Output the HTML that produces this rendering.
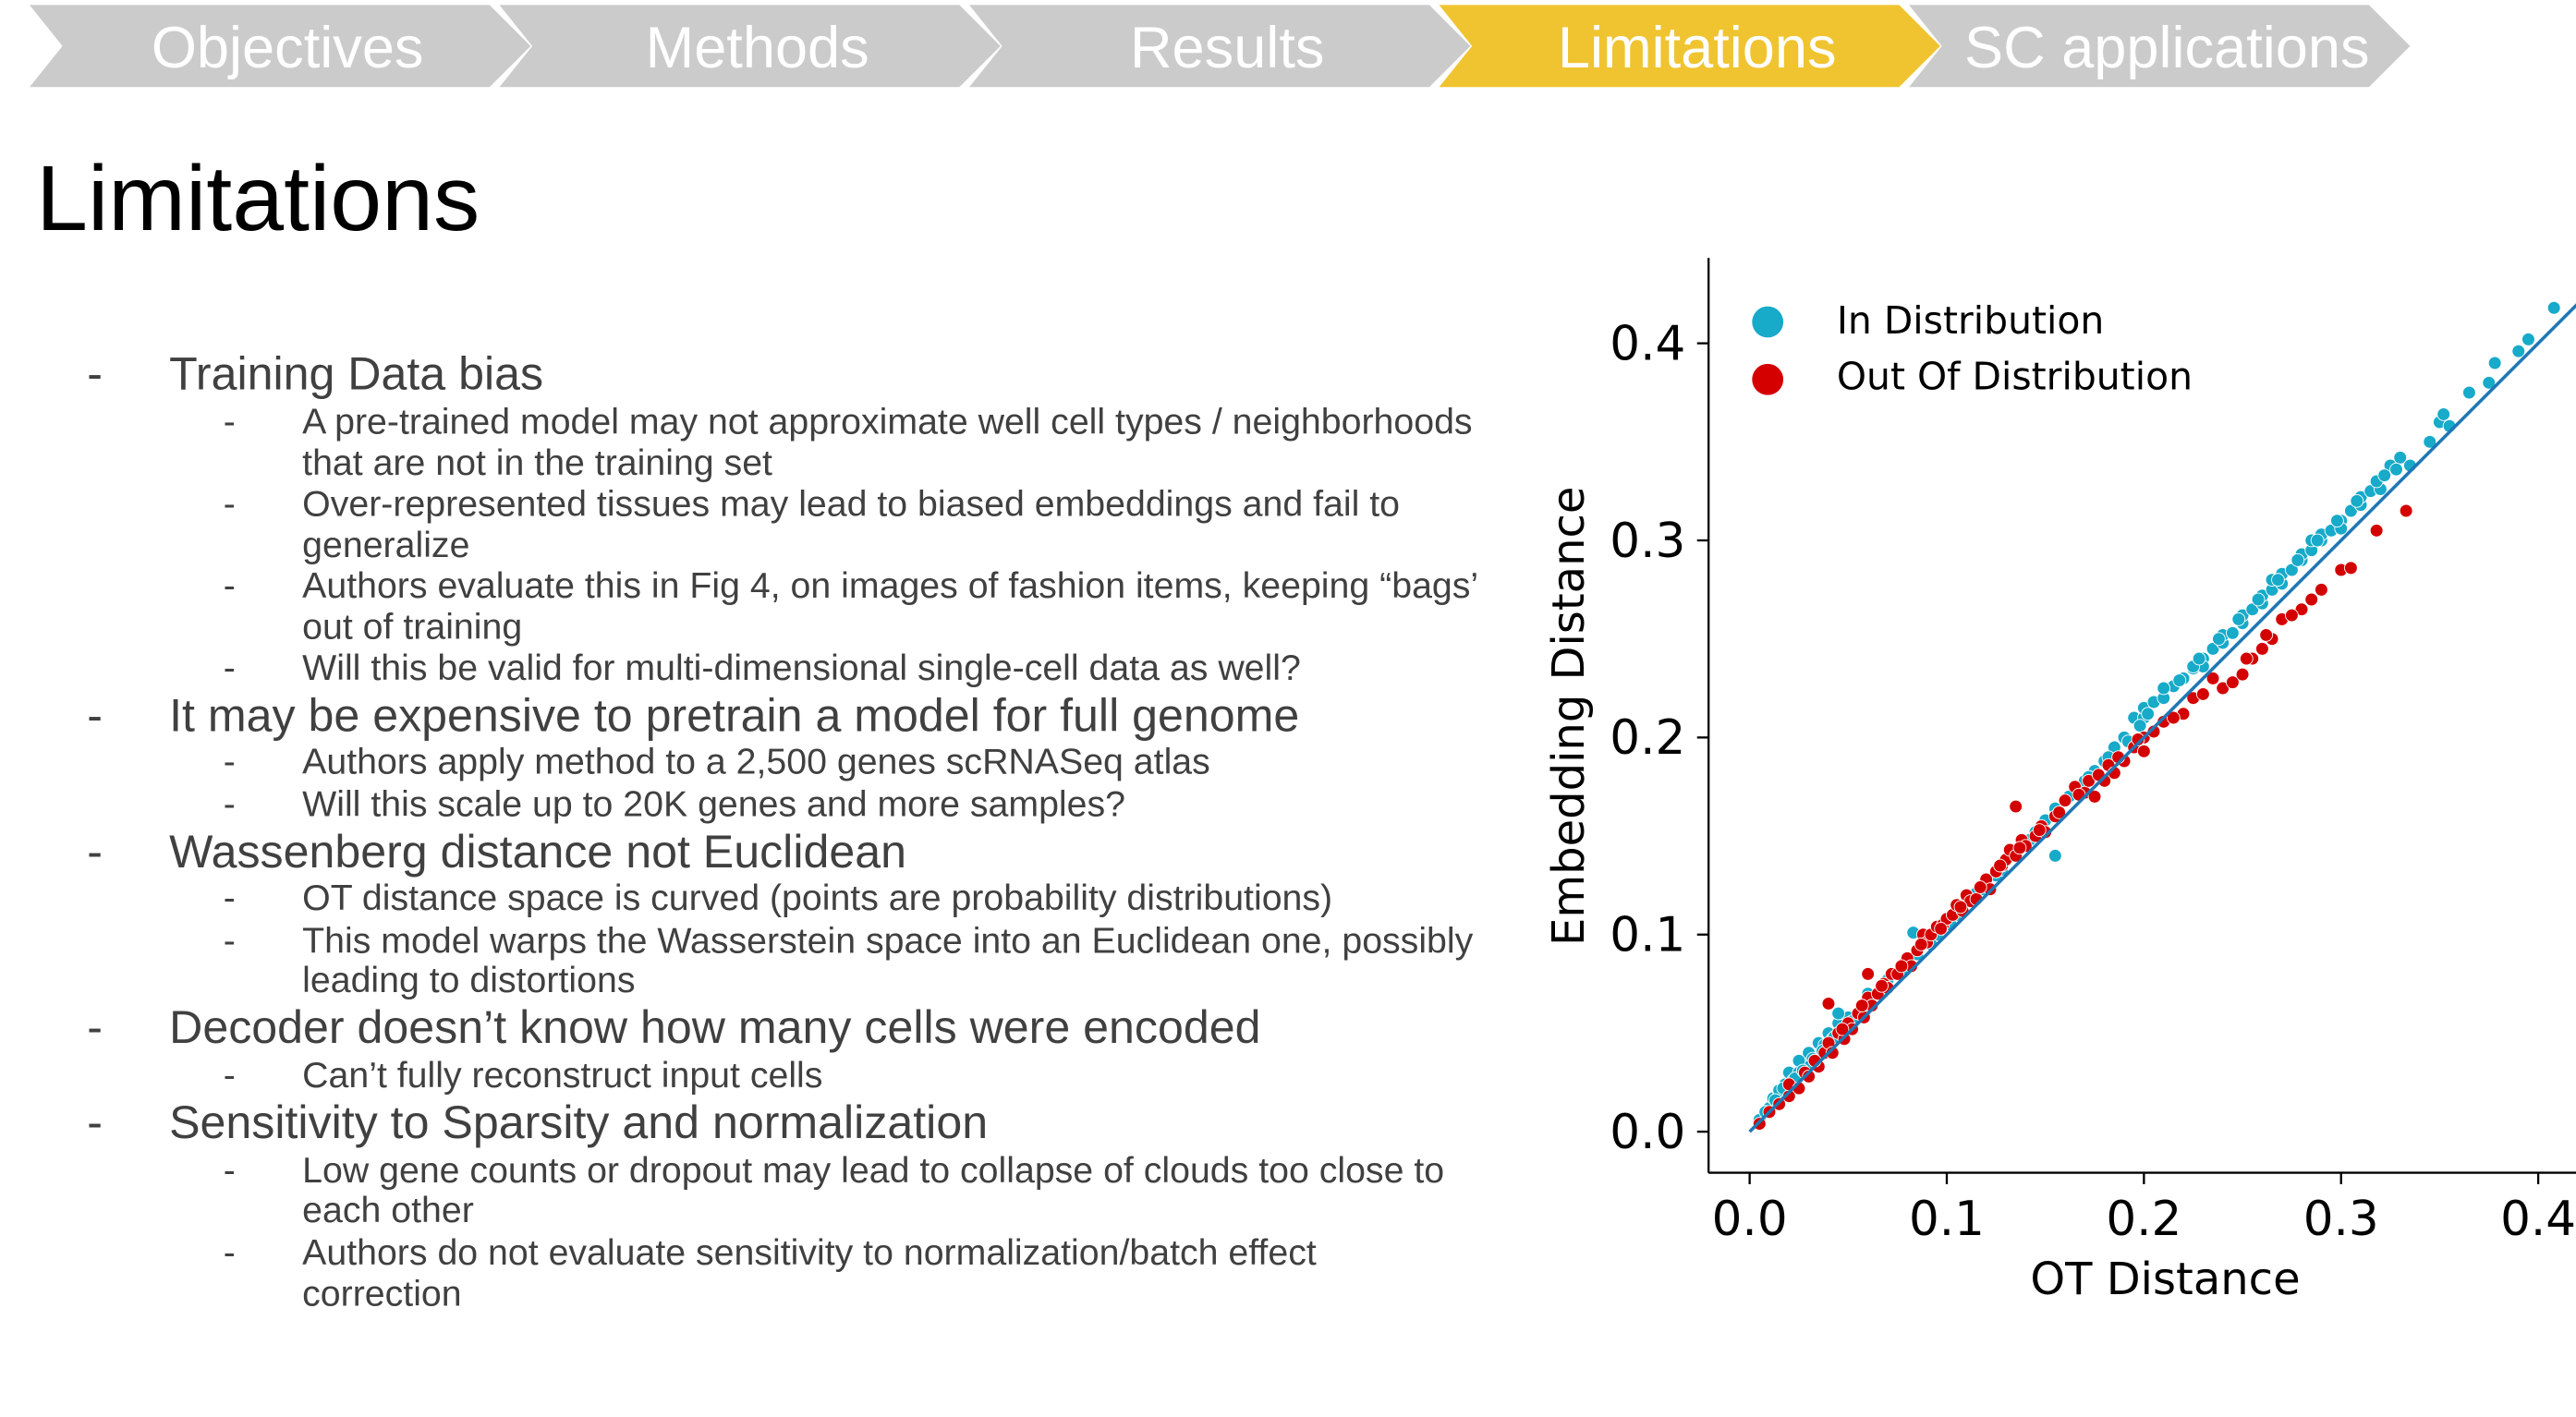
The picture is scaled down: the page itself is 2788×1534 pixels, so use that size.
<!DOCTYPE html>
<html><head><meta charset="utf-8"><style>
html,body{margin:0;padding:0;background:#fff;overflow:hidden}
svg{display:block}
.t1{font-family:"Liberation Sans",sans-serif;font-size:28.2px;fill:#404040}
.t2{font-family:"Liberation Sans",sans-serif;font-size:22.1px;fill:#404040}
.ch{font-family:"Liberation Sans",sans-serif;font-size:35.5px;fill:#fff}
.tk{font-family:"DejaVu Sans",sans-serif;font-size:29px;fill:#000}
.at{font-family:"DejaVu Sans",sans-serif;font-size:27px;fill:#000}
.lg{font-family:"DejaVu Sans",sans-serif;font-size:23px;fill:#000}
</style></head><body>
<svg id="page" width="2788" height="1534" viewBox="0 0 1568 862.7" xmlns="http://www.w3.org/2000/svg">
<g id="nav"></g>
<text x="22" y="140" font-family="Liberation Sans, sans-serif" font-size="56.5" fill="#000">Limitations</text>
<g id="bullets"></g>
<g id="chart"></g>
</svg>
<script>
const NS="http://www.w3.org/2000/svg";
function mk(tag,attrs,parent,text){const e=document.createElementNS(NS,tag);for(const k in attrs)e.setAttribute(k,attrs[k]);if(text!==undefined)e.textContent=text;parent.appendChild(e);return e;}
const navLabels=["Objectives","Methods","Results","Limitations","SC applications"];
const nav=document.getElementById('nav');
navLabels.forEach((lab,i)=>{
  const x0=18+i*286,w=280,d=25;
  const active=i===3;
  const p=mk('polygon',{points:`${x0},3 ${x0+w},3 ${x0+w+d},28 ${x0+w},53 ${x0},53 ${x0+20},28`,fill:active?'#f0c430':'#cbcbcb'},nav);
  
  
  const t=mk('text',{x:x0+157,y:41,'text-anchor':'middle',class:'ch'},nav,lab);
  
  
});
const lines=[
[1,237,"Training Data bias"],
[2,264,"A pre-trained model may not approximate well cell types / neighborhoods"],
[0,289,"that are not in the training set"],
[2,314,"Over-represented tissues may lead to biased embeddings and fail to"],
[0,339,"generalize"],
[2,364,"Authors evaluate this in Fig 4, on images of fashion items, keeping \u201cbags\u2019"],
[0,389,"out of training"],
[2,414,"Will this be valid for multi-dimensional single-cell data as well?"],
[1,445,"It may be expensive to pretrain a model for full genome"],
[2,471,"Authors apply method to a 2,500 genes scRNASeq atlas"],
[2,497,"Will this scale up to 20K genes and more samples?"],
[1,528,"Wassenberg distance not Euclidean"],
[2,554,"OT distance space is curved (points are probability distributions)"],
[2,580,"This model warps the Wasserstein space into an Euclidean one, possibly"],
[0,604,"leading to distortions"],
[1,635,"Decoder doesn\u2019t know how many cells were encoded"],
[2,662,"Can\u2019t fully reconstruct input cells"],
[1,693,"Sensitivity to Sparsity and normalization"],
[2,720,"Low gene counts or dropout may lead to collapse of clouds too close to"],
[0,744,"each other"],
[2,770,"Authors do not evaluate sensitivity to normalization/batch effect"],
[0,795,"correction"]];
const bl=document.getElementById('bullets');
lines.forEach(([lv,y,s])=>{
  if(lv===1){
    const d=mk('text',{x:53,y:y,class:'t1'},bl,'-');
    
    
    const t=mk('text',{x:103,y:y,class:'t1'},bl,s);
    
    
  } else {
    if(lv===2){const d=mk('text',{x:136,y:y,class:'t2'},bl,'-');
      
      }
    const t=mk('text',{x:184,y:y,class:'t2'},bl,s);
    
    
  }
});
</script>
<script>
const xTicks=[0.0,0.1,0.2,0.3,0.4];
const yTicks=[0.0,0.1,0.2,0.3,0.4];
const tickLabels=["0.0","0.1","0.2","0.3","0.4"];
const inX=[0.005,0.01,0.012,0.015,0.018,0.02,0.022,0.025,0.028,0.03,0.032,0.035,0.038,0.04,0.042,0.045,0.048,0.05,0.055,0.06,0.065,0.07,0.075,0.08,0.083,0.085,0.09,0.095,0.1,0.105,0.11,0.115,0.12,0.125,0.13,0.135,0.14,0.145,0.15,0.155,0.155,0.16,0.165,0.17,0.175,0.18,0.185,0.19,0.195,0.2,0.2,0.205,0.21,0.215,0.22,0.225,0.23,0.23,0.235,0.24,0.24,0.245,0.25,0.25,0.255,0.26,0.26,0.265,0.27,0.27,0.275,0.28,0.28,0.285,0.29,0.29,0.295,0.3,0.3,0.305,0.31,0.31,0.315,0.32,0.325,0.33,0.335,0.345,0.35,0.352,0.355,0.365,0.375,0.378,0.39,0.395,0.408,0.03,0.06,0.015,0.025,0.045,0.21,0.225,0.265,0.285,0.008,0.013,0.017,0.023,0.027,0.033,0.037,0.043,0.052,0.058,0.068,0.078,0.092,0.102,0.118,0.128,0.142,0.162,0.172,0.182,0.192,0.198,0.202,0.218,0.228,0.238,0.248,0.258,0.268,0.278,0.288,0.298,0.308,0.318,0.322,0.328];
const inY=[0.006,0.012,0.017,0.02,0.024,0.03,0.026,0.03,0.035,0.04,0.037,0.045,0.044,0.05,0.047,0.055,0.052,0.058,0.06,0.066,0.07,0.077,0.08,0.086,0.101,0.09,0.096,0.1,0.106,0.11,0.117,0.121,0.127,0.13,0.138,0.14,0.147,0.152,0.158,0.164,0.14,0.168,0.172,0.178,0.183,0.188,0.195,0.2,0.21,0.21,0.215,0.218,0.22,0.226,0.23,0.235,0.24,0.236,0.245,0.248,0.252,0.253,0.258,0.262,0.265,0.268,0.272,0.275,0.278,0.283,0.285,0.29,0.293,0.295,0.3,0.303,0.305,0.31,0.306,0.315,0.318,0.322,0.325,0.326,0.338,0.342,0.338,0.35,0.36,0.364,0.358,0.375,0.38,0.39,0.396,0.402,0.418,0.033,0.07,0.021,0.036,0.06,0.225,0.236,0.28,0.3,0.01,0.016,0.022,0.027,0.031,0.036,0.041,0.048,0.056,0.062,0.072,0.081,0.095,0.105,0.123,0.133,0.148,0.17,0.18,0.19,0.198,0.206,0.212,0.229,0.24,0.25,0.26,0.27,0.28,0.29,0.3,0.31,0.32,0.33,0.333,0.336];
const outX=[0.005,0.01,0.015,0.02,0.02,0.025,0.028,0.03,0.035,0.038,0.04,0.042,0.045,0.048,0.05,0.052,0.055,0.058,0.06,0.062,0.065,0.068,0.07,0.072,0.075,0.078,0.08,0.082,0.085,0.088,0.09,0.092,0.095,0.098,0.1,0.103,0.105,0.108,0.11,0.112,0.115,0.118,0.12,0.122,0.125,0.128,0.13,0.132,0.135,0.138,0.14,0.145,0.148,0.15,0.155,0.16,0.165,0.17,0.172,0.175,0.18,0.182,0.185,0.19,0.195,0.2,0.205,0.21,0.22,0.225,0.24,0.245,0.25,0.255,0.26,0.265,0.27,0.28,0.285,0.29,0.3,0.305,0.318,0.333,0.06,0.04,0.135,0.2,0.23,0.033,0.047,0.057,0.067,0.077,0.087,0.097,0.107,0.117,0.127,0.137,0.147,0.157,0.167,0.177,0.187,0.197,0.215,0.235,0.252,0.262,0.275];
const outY=[0.004,0.01,0.014,0.018,0.024,0.022,0.03,0.028,0.033,0.04,0.045,0.04,0.05,0.047,0.055,0.052,0.06,0.058,0.068,0.064,0.07,0.075,0.073,0.08,0.08,0.085,0.088,0.084,0.092,0.1,0.096,0.1,0.104,0.105,0.108,0.11,0.115,0.112,0.12,0.117,0.118,0.125,0.128,0.123,0.132,0.135,0.138,0.143,0.14,0.148,0.145,0.15,0.155,0.152,0.16,0.168,0.175,0.172,0.178,0.17,0.178,0.186,0.182,0.188,0.195,0.2,0.203,0.208,0.212,0.22,0.225,0.228,0.232,0.24,0.245,0.25,0.26,0.265,0.27,0.275,0.285,0.286,0.305,0.315,0.08,0.065,0.165,0.193,0.222,0.036,0.052,0.064,0.074,0.084,0.095,0.103,0.114,0.124,0.135,0.144,0.153,0.162,0.171,0.181,0.19,0.199,0.21,0.23,0.24,0.252,0.262];
const xS=v=>1065+v*1200;
const yS=v=>689-v*1200;
const ch=document.getElementById('chart');
const ya=mk('line',{x1:1040,y1:157,x2:1040,y2:714,stroke:'#000','stroke-width':1.3},ch);


const xa=mk('line',{x1:1040,y1:714,x2:1568,y2:714,stroke:'#000','stroke-width':1.3},ch);


xTicks.forEach((v,i)=>{
  const tk=mk('line',{x1:xS(v),y1:714,x2:xS(v),y2:721,stroke:'#000','stroke-width':1.3},ch);
  
  
  const t=mk('text',{x:xS(v),y:752,'text-anchor':'middle',class:'tk'},ch,tickLabels[i]);
  
  
});
yTicks.forEach((v,i)=>{
  const tk=mk('line',{x1:1033,y1:yS(v),x2:1040,y2:yS(v),stroke:'#000','stroke-width':1.3},ch);
  
  
  const t=mk('text',{x:1026,y:yS(v)+10,'text-anchor':'end',class:'tk'},ch,tickLabels[i]);
  
  
});
const xt=mk('text',{x:1318,y:788,'text-anchor':'middle',class:'at'},ch,'OT Distance');


const yt=mk('text',{x:0,y:0,'text-anchor':'middle',class:'at',transform:'translate(964,436) rotate(-90)'},ch,'Embedding Distance');


const gi=mk('g',{},ch);


inX.forEach((x,i)=>{const c=mk('circle',{cx:xS(x),cy:yS(inY[i]),r:3.9,fill:'#17aac9',stroke:'#fff','stroke-width':0.5},gi);
  
  });
const go=mk('g',{},ch);


outX.forEach((x,i)=>{const c=mk('circle',{cx:xS(x),cy:yS(outY[i]),r:3.9,fill:'#d40000',stroke:'#fff','stroke-width':0.5},go);
  
  });
const dl=mk('line',{x1:xS(0),y1:yS(0),x2:xS(0.42),y2:yS(0.42),stroke:'#1f77b4','stroke-width':2},ch);


const l1=mk('circle',{cx:1076,cy:196,r:9.5,fill:'#17aac9'},ch);


const l1t=mk('text',{x:1118,y:203,class:'lg'},ch,'In Distribution');


const l2=mk('circle',{cx:1076,cy:231,r:9.5,fill:'#d40000'},ch);


const l2t=mk('text',{x:1118,y:237,class:'lg'},ch,'Out Of Distribution');


</script>
</body></html>
